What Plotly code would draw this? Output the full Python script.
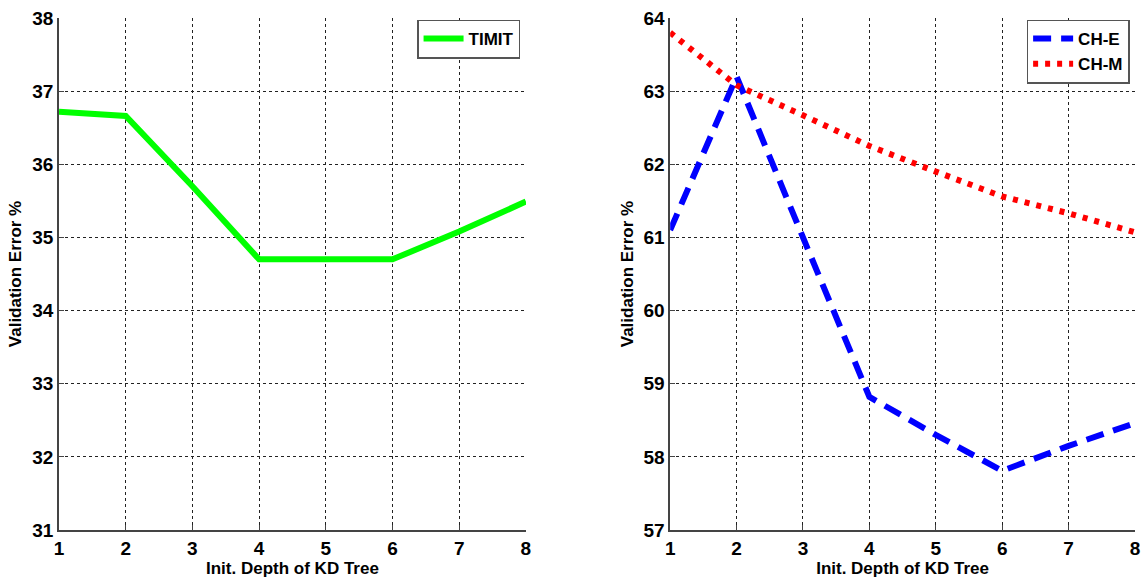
import plotly.graph_objects as go

depth = [1, 2, 3, 4, 5, 6, 7, 8]
timit = [36.72, 36.66, 35.70, 34.70, 34.70, 34.70, 35.08, 35.49]
ch_e = [61.10, 63.20, 61.00, 58.82, 58.30, 57.81, 58.15, 58.46]
ch_m = [63.80, 63.08, 62.67, 62.25, 61.90, 61.56, 61.33, 61.07]

left_ticks = [31, 32, 33, 34, 35, 36, 37, 38]
right_ticks = [57, 58, 59, 60, 61, 62, 63, 64]

fig = go.Figure()
fig.add_trace(go.Scatter(x=depth, y=timit, mode="lines", name="<b>TIMIT</b>",
                         line=dict(color="#00ff00", width=6), showlegend=True,
                         xaxis="x", yaxis="y", legend="legend"))
fig.add_trace(go.Scatter(x=depth, y=ch_e, mode="lines", name="<b>CH-E</b>",
                         line=dict(color="#0000ff", width=6, dash="18px,10px"), showlegend=True,
                         xaxis="x2", yaxis="y2", legend="legend2"))
fig.add_trace(go.Scatter(x=depth, y=ch_m, mode="lines", name="<b>CH-M</b>",
                         line=dict(color="#ff0000", width=6, dash="5px,7px"), showlegend=True,
                         xaxis="x2", yaxis="y2", legend="legend2"))

font_family = "Liberation Sans, Arial, sans-serif"
axis_common = dict(
    showgrid=True, gridcolor="#222222", griddash="3px,3px", gridwidth=1,
    showline=True, linecolor="#444444", linewidth=1.5,
    ticks="inside", ticklen=5, tickcolor="#444444",
    zeroline=False, mirror=False,
    tickfont=dict(family=font_family, size=19, color="black"),
)

def bold(vals):
    return ["<b>%d</b>" % v for v in vals]

title_font = dict(family=font_family, size=17, color="black")

fig.update_layout(
    width=1148, height=579,
    margin=dict(l=59, r=8, t=17, b=44),
    plot_bgcolor="white", paper_bgcolor="white",
    showlegend=True,
    font=dict(family=font_family, color="black"),
    xaxis=dict(domain=[0, 0.4339], range=[1, 8], tickvals=depth, ticktext=bold(depth), anchor="y",
               title=dict(text="<b>Init. Depth of KD Tree</b>", font=title_font, standoff=1),
               **axis_common),
    yaxis=dict(domain=[0, 1], range=[31, 38], tickvals=left_ticks, ticktext=bold(left_ticks), anchor="x",
               title=dict(text="<b>Validation Error %</b>", font=title_font, standoff=6),
               **axis_common),
    xaxis2=dict(domain=[0.568, 1], range=[1, 8], tickvals=depth, ticktext=bold(depth), anchor="y2",
                title=dict(text="<b>Init. Depth of KD Tree</b>", font=title_font, standoff=1),
                **axis_common),
    yaxis2=dict(domain=[0, 1], range=[57, 64], tickvals=right_ticks, ticktext=bold(right_ticks), anchor="x2",
                title=dict(text="<b>Validation Error %</b>", font=title_font, standoff=6),
                **axis_common),
    legend=dict(x=0.4285, y=0.997, xanchor="right", yanchor="top", visible=True,
                bordercolor="#555555", borderwidth=1.5, bgcolor="white",
                font=dict(family=font_family, size=17, color="black"),
                tracegroupgap=0, itemwidth=40),
    legend2=dict(x=0.995, y=0.997, xanchor="right", yanchor="top", visible=True,
                 bordercolor="#555555", borderwidth=1.5, bgcolor="white",
                 font=dict(family=font_family, size=17, color="black"),
                 tracegroupgap=0, itemwidth=40),
)

fig.write_html("out.html")
